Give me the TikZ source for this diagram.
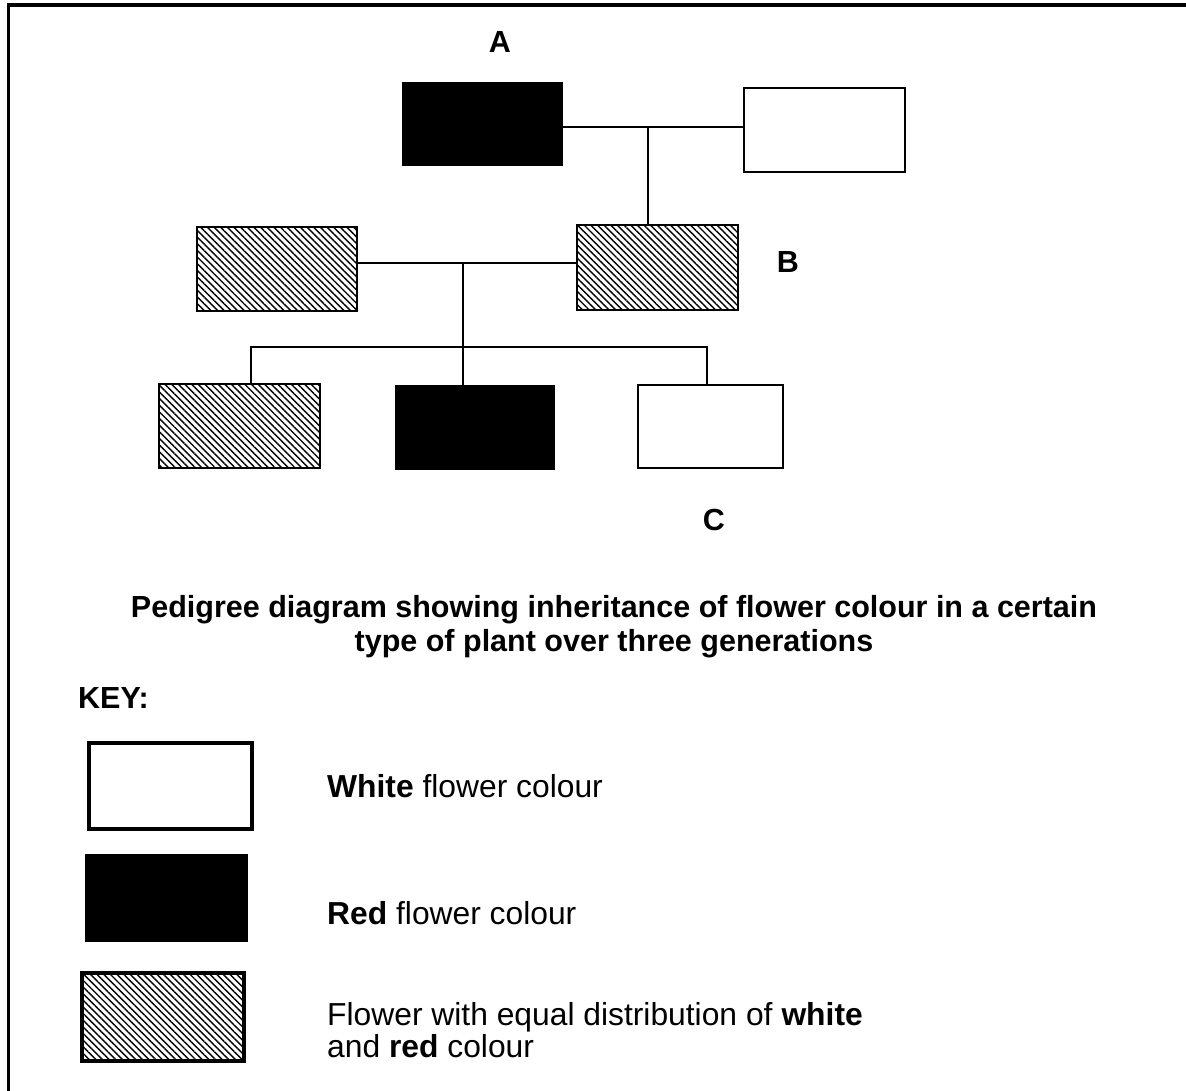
\documentclass[tikz,border=0pt]{standalone}
\usepackage{fontspec}
\setmainfont{Liberation Sans}
\usetikzlibrary{patterns.meta}
\begin{document}
\begin{tikzpicture}[x=1pt,y=-1pt,
  txt/.style={font=\fontsize{31.8}{34}\selectfont, inner sep=0pt, anchor=base west},
  lbl/.style={font=\fontsize{30.5}{34}\selectfont\bfseries, inner sep=0pt, anchor=base},
  conn/.style={line width=2pt},
  box/.style={rectangle, inner sep=0pt, outer sep=0pt, anchor=north west},
  plain/.style={box, draw=black, line width=2.4pt, fill=white},
  redbox/.style={box, fill=black},
  hatch/.style={box, draw=black, line width=2.4pt, pattern={Lines[angle=-45,distance=4.7pt,line width=1.4pt]}},
  keybox/.style={line width=4pt}]
\useasboundingbox (0,0) rectangle (1186,1090);
\fill[white] (0,0) rectangle (1186,1090);
% frame
\draw[line width=3.6pt] (8.3,1092) -- (8.3,4.7) -- (1188,4.7);
% generation 1
\node[redbox, minimum width=161pt, minimum height=84pt] (A) at (402,82) {};
\node[plain, minimum width=161pt, minimum height=84pt] (W1) at (744,88) {};
\coordinate (Ar) at (563,127);
\coordinate (Wl) at (744,127);
\coordinate (m1) at (648,127);
\draw[conn] (Ar) -- (Wl);
% generation 2
\node[hatch, minimum width=160pt, minimum height=84pt] (L2) at (197,227) {};
\node[hatch, minimum width=161pt, minimum height=85pt] (B) at (577,225) {};
\coordinate (Bt) at (648,225);
\draw[conn] (m1) -- (Bt);
\coordinate (Lr) at (357,263);
\coordinate (Bl) at (577,263);
\coordinate (m2) at (463,263);
\draw[conn] (Lr) -- (Bl);
% generation 3
\node[hatch, minimum width=161pt, minimum height=84pt] (G1) at (159,384) {};
\node[redbox, minimum width=160pt, minimum height=85pt] (G2) at (395,385) {};
\node[plain, minimum width=145pt, minimum height=83pt] (C) at (638,385) {};
\coordinate (c1) at (251,347);
\coordinate (c3) at (707,347);
\coordinate (c1b) at (251,384);
\coordinate (c2b) at (463,385);
\coordinate (c3b) at (707,385);
\draw[conn] (m2) -- (c2b);
\draw[conn] (c1b) -- (c1) -- (c3) -- (c3b);
% labels
\node[lbl] (la) at (500,52) {A};
\node[lbl] (lb) at (788,272) {B};
\node[lbl] (lc) at (714,530) {C};
% title
\node[lbl] (title1) at (614,617) {Pedigree diagram showing inheritance of flower colour in a certain};
\node[lbl] (title2) at (614,651) {type of plant over three generations};
% key
\node[txt, font=\fontsize{30.5}{34}\selectfont\bfseries] (key) at (78,708) {KEY:};
\node[plain, line width=4pt, minimum width=163pt, minimum height=86pt] (kwb) at (89,743) {};
\node[redbox, minimum width=163pt, minimum height=88pt] (krb) at (85,854) {};
\node[hatch, line width=4pt, minimum width=162pt, minimum height=88pt] (khb) at (82,973) {};
\node[txt] (kw) at (327,797) {\textbf{White} flower colour};
\node[txt] (kr) at (327,924) {\textbf{Red} flower colour};
\node[txt] (kh1) at (327,1025) {Flower with equal distribution of \textbf{white}};
\node[txt] (kh2) at (327,1057) {and \textbf{red} colour};
\end{tikzpicture}
\end{document}
